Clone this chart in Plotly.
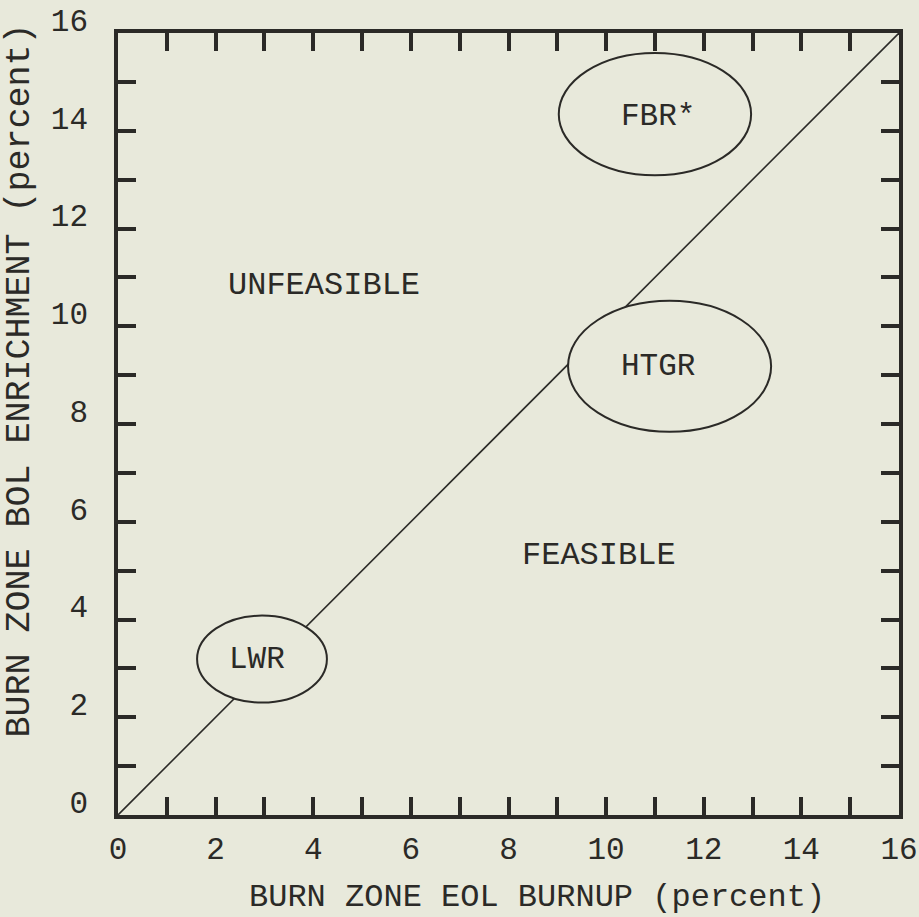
import plotly.graph_objects as go

# ---- data ----
diag_x = [0, 16]
diag_y = [0, 16]

region_names = ["FBR*", "HTGR", "LWR"]
region_cx = [11.0, 11.3, 2.95]
region_cy = [14.34, 9.18, 3.19]
region_rx = [1.97, 2.08, 1.33]
region_ry = [1.25, 1.34, 0.89]
label_x = [11.06, 11.06, 2.85]
label_y = [14.3, 9.18, 3.18]

zone_names = ["UNFEASIBLE", "FEASIBLE"]
zone_x = [4.23, 9.85]
zone_y = [10.84, 5.31]

tick_vals = list(range(0, 17))
tick_text = [str(v) if v % 2 == 0 else "" for v in tick_vals]

x_title = "BURN ZONE EOL BURNUP (percent)"
y_title = "BURN ZONE BOL ENRICHMENT (percent)"

BG = "#e8e9db"
INK = "#2b2a27"
FONT = "Liberation Mono, Courier New, monospace"

fig = go.Figure()
fig.add_trace(go.Scatter(x=diag_x, y=diag_y, mode="lines",
                         line=dict(color=INK, width=1.6),
                         hoverinfo="skip", showlegend=False))

for cx, cy, rx, ry in zip(region_cx, region_cy, region_rx, region_ry):
    fig.add_shape(type="circle", xref="x", yref="y",
                  x0=cx - rx, x1=cx + rx, y0=cy - ry, y1=cy + ry,
                  line=dict(color=INK, width=2), fillcolor=BG, layer="above")

annotations = []
for name, x, y in zip(region_names, label_x, label_y):
    annotations.append(dict(x=x, y=y, xref="x", yref="y", text=name,
                            showarrow=False, font=dict(size=31, color=INK, family=FONT),
                            xanchor="center", yanchor="middle"))
for name, x, y in zip(zone_names, zone_x, zone_y):
    annotations.append(dict(x=x, y=y, xref="x", yref="y", text=name,
                            showarrow=False, font=dict(size=32, color=INK, family=FONT),
                            xanchor="center", yanchor="middle"))
annotations.append(dict(x=0.537, y=-0.106, xref="paper", yref="paper", text=x_title,
                        showarrow=False, font=dict(size=32, color=INK, family=FONT),
                        xanchor="center", yanchor="middle"))
annotations.append(dict(x=-0.126, y=0.555, xref="paper", yref="paper", text=y_title,
                        showarrow=False, textangle=-90,
                        font=dict(size=35, color=INK, family=FONT),
                        xanchor="center", yanchor="middle"))

axis_common = dict(
    range=[0, 16], tickmode="array", tickvals=tick_vals, ticktext=tick_text,
    ticks="inside", ticklen=18, tickwidth=3.5, tickcolor=INK,
    showline=True, linewidth=3.5, linecolor=INK, mirror="ticks",
    showgrid=False, zeroline=False, ticklabeloverflow="allow", automargin=False,
    tickfont=dict(size=31, color=INK, family=FONT),
)

fig.update_layout(
    width=919, height=917,
    margin=dict(l=118, r=20, t=33, b=102),
    paper_bgcolor=BG, plot_bgcolor=BG,
    xaxis=dict(**axis_common, ticklabelstandoff=3),
    yaxis=dict(**axis_common, ticklabelstandoff=20, ticklabelshift=-13),
    annotations=annotations,
    showlegend=False,
)

fig.write_html(
    "out.html",
    config={"displayModeBar": False},
    post_script="document.body.style.margin='0';document.body.style.background='%s';" % BG,
)
